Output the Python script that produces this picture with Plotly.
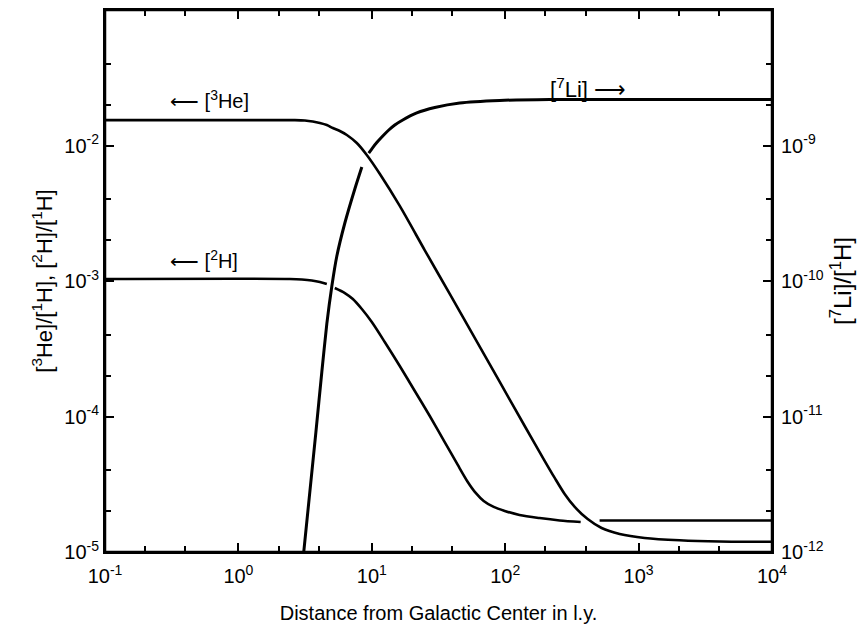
import plotly.graph_objects as go

# Distance from Galactic Center (l.y.) and abundances
he3_x = [0.1, 2.65, 3.15, 3.61, 4.08, 4.60, 5.10, 5.76, 6.50, 7.72, 9.17, 11.5, 16.2, 24.9, 38.4, 59.1,
         91.0, 140, 198, 235, 279, 332, 415, 528, 721, 1109, 2028, 4044, 10000]
he3_y = [1.54e-2, 1.54e-2, 1.53e-2, 1.503e-2, 1.466e-2, 1.417e-2, 1.346e-2, 1.279e-2, 1.195e-2, 1.043e-2,
         8.51e-3, 6.16e-3, 3.58e-3, 1.693e-3, 8.02e-4, 3.80e-4, 1.798e-4, 8.51e-5, 4.69e-5, 3.52e-5,
         2.68e-5, 2.15e-5, 1.75e-5, 1.503e-5, 1.36e-5, 1.27e-5, 1.22e-5, 1.195e-5, 1.19e-5]

# None marks the small breaks where curves cross
h2_x = [0.1, 2.43, 2.99, 3.55, 4.08, 4.60, None, 5.28, 6.28, 7.21, 8.42, 10.0, 12.5, 16.2, 21.0, 27.2,
        35.2, 44.1, 52.4, 60.1, 69.0, 82.0, 99.2, 128, 181, 256, 368, None, 510, 10000]
h2_y = [1.035e-3, 1.035e-3, 1.026e-3, 1.0085e-3, 9.83e-4, 9.50e-4, None, 8.88e-4, 8.15e-4, 7.36e-4,
        6.21e-4, 4.98e-4, 3.55e-4, 2.36e-4, 1.543e-4, 1.0085e-4, 6.48e-5, 4.39e-5, 3.29e-5, 2.73e-5,
        2.38e-5, 2.15e-5, 2.01e-5, 1.875e-5, 1.78e-5, 1.71e-5, 1.665e-5, None, 1.71e-5, 1.71e-5]

li7_x = [3.09, 3.43, 3.81, 4.22, 4.60, 5.02, 5.47, 6.28, 7.46, 8.42, None, 9.49, 10.17, 10.9, 12.09, 13.41,
         14.87, 17.07, 21.73, 29.65, 45.62, 91.0, 215, 10000]
li7_y = [1.0e-12, 2.77e-12, 7.68e-12, 2.13e-11, 4.82e-11, 9.19e-11, 1.53e-10, 2.68e-10, 4.78e-10, 6.94e-10,
         None, 8.80e-10, 9.66e-10, 1.052e-9, 1.175e-9, 1.301e-9, 1.417e-9, 1.543e-9, 1.738e-9, 1.907e-9,
         2.06e-9, 2.15e-9, 2.185e-9, 2.185e-9]

x_tickvals = [0.1, 1, 10, 100, 1000, 10000]
x_ticktext = ["10<sup>-1</sup>", "10<sup>0</sup>", "10<sup>1</sup>", "10<sup>2</sup>", "10<sup>3</sup>", "10<sup>4</sup>"]
x_minor = [0.2, 0.4, 2, 4, 20, 40, 200, 400, 2000, 4000]

yl_tickvals = [1e-5, 1e-4, 1e-3, 1e-2]
yl_ticktext = ["10<sup>-5</sup>", "10<sup>-4</sup>", "10<sup>-3</sup>", "10<sup>-2</sup>"]
yl_minor = [2e-5, 4e-5, 2e-4, 4e-4, 2e-3, 4e-3, 2e-2, 4e-2]

yr_tickvals = [1e-12, 1e-11, 1e-10, 1e-9]
yr_ticktext = ["10<sup>-12</sup>", "10<sup>-11</sup>", "10<sup>-10</sup>", "10<sup>-9</sup>"]
yr_minor = [2e-12, 4e-12, 2e-11, 4e-11, 2e-10, 4e-10, 2e-9, 4e-9]

FONT = "Liberation Sans"

fig = go.Figure()
fig.add_trace(go.Scatter(x=he3_x, y=he3_y, mode="lines",
                         line=dict(color="black", width=2.6, shape="spline", smoothing=0.8),
                         connectgaps=False, showlegend=False, yaxis="y"))
fig.add_trace(go.Scatter(x=h2_x, y=h2_y, mode="lines",
                         line=dict(color="black", width=2.6, shape="spline", smoothing=0.8),
                         connectgaps=False, showlegend=False, yaxis="y"))
fig.add_trace(go.Scatter(x=li7_x, y=li7_y, mode="lines",
                         line=dict(color="black", width=3, shape="spline", smoothing=0.6),
                         connectgaps=False, showlegend=False, yaxis="y2"))

axis_common = dict(
    type="log", showgrid=False, zeroline=False, showline=True, linecolor="black", linewidth=2,
    ticks="inside", ticklen=9, tickwidth=1.5, tickcolor="black", tickmode="array", automargin=False,
    tickfont=dict(family=FONT, size=20, color="black"),
)
minor_common = dict(ticks="inside", ticklen=6, tickwidth=1.5, tickcolor="black")

fig.update_layout(
    width=865, height=630,
    margin=dict(l=97, r=101, t=2, b=86),
    paper_bgcolor="white", plot_bgcolor="white",
    font=dict(family=FONT, color="black"),
    xaxis=dict(**axis_common, range=[-1, 4], tickvals=x_tickvals, ticktext=x_ticktext, mirror="ticks",
               ticklabelstandoff=5,
               minor=dict(tickvals=x_minor, **minor_common),
               title=dict(text="Distance from Galactic Center in l.y.", font=dict(family=FONT, size=20), standoff=20)),
    yaxis=dict(**axis_common, range=[-5, -1], tickvals=yl_tickvals, ticktext=yl_ticktext,
               minor=dict(tickvals=yl_minor, **minor_common),
               title=dict(text="[<sup>3</sup>He]/[<sup>1</sup>H], [<sup>2</sup>H]/[<sup>1</sup>H]",
                          font=dict(family=FONT, size=22), standoff=6)),
    yaxis2=dict(**axis_common, range=[-12, -8], tickvals=yr_tickvals, ticktext=yr_ticktext,
                overlaying="y", side="right", ticklabelstandoff=3,
                minor=dict(tickvals=yr_minor, **minor_common),
                title=dict(text="[<sup>7</sup>Li]/[<sup>1</sup>H]", font=dict(family=FONT, size=24), standoff=12)),
    shapes=[dict(type="rect", xref="paper", yref="paper", x0=0, x1=1, y0=0, y1=1, layer="above",
                 line=dict(color="black", width=2.5), fillcolor="rgba(0,0,0,0)")],
    annotations=[
        dict(text="⟵ [<sup>3</sup>He]", xref="paper", yref="paper", x=0.0945, y=0.834, xanchor="left",
             yanchor="middle", showarrow=False, font=dict(family=FONT, size=20, color="black")),
        dict(text="⟵ [<sup>2</sup>H]", xref="paper", yref="paper", x=0.0945, y=0.539, xanchor="left",
             yanchor="middle", showarrow=False, font=dict(family=FONT, size=20, color="black")),
        dict(text="[<sup>7</sup>Li] ⟶", xref="paper", yref="paper", x=0.664, y=0.856, xanchor="left",
             yanchor="middle", showarrow=False, font=dict(family=FONT, size=22, color="black")),
    ],
)

fig.write_html("out.html")
